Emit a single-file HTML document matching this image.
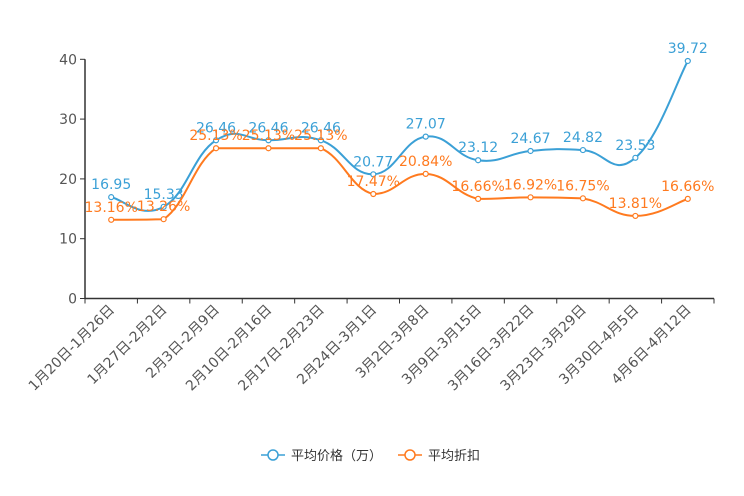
<!DOCTYPE html>
<html><head><meta charset="utf-8">
<style>
html,body{margin:0;padding:0;background:#fff;}
svg{display:block;font-family:"DejaVu Sans","Noto Sans CJK SC",sans-serif;}
</style></head>
<body>
<svg id="chart" width="744" height="496">
<g id="axes"></g>
<g id="series"></g>
<g id="legend">
  <g>
    <line x1="261" y1="455" x2="285" y2="455" stroke="#3ba0d6" stroke-width="1.5"/>
    <circle cx="273" cy="455" r="5" fill="#fff" stroke="#3ba0d6" stroke-width="1.5"/>
    <text x="291" y="460" font-size="13" fill="#333">平均价格（万）</text>
  </g>
  <g>
    <line x1="398" y1="455" x2="422" y2="455" stroke="#ff7a1f" stroke-width="1.5"/>
    <circle cx="410" cy="455" r="5" fill="#fff" stroke="#ff7a1f" stroke-width="1.5"/>
    <text x="428" y="460" font-size="13" fill="#333">平均折扣</text>
  </g>
</g>
</svg>
<script>
const categories = ["1月20日-1月26日","1月27日-2月2日","2月3日-2月9日","2月10日-2月16日","2月17日-2月23日","2月24日-3月1日","3月2日-3月8日","3月9日-3月15日","3月16日-3月22日","3月23日-3月29日","3月30日-4月5日","4月6日-4月12日"];
const priceValues = [16.95,15.33,26.46,26.46,26.46,20.77,27.07,23.12,24.67,24.82,23.53,39.72];
const discountValues = [13.16,13.26,25.13,25.13,25.13,17.47,20.84,16.66,16.92,16.75,13.81,16.66];
const yTicks = [0,10,20,30,40];

const NS="http://www.w3.org/2000/svg";
const X0=85, X1=714, Y0=298.5, Y1=59.3, YMAX=40;
const band=(X1-X0)/categories.length;
const xs=i=>X0+band*(i+0.5);
const ys=v=>Y0-(v/YMAX)*(Y0-Y1);
function mk(tag,attrs,parent){const e=document.createElementNS(NS,tag);for(const k in attrs)e.setAttribute(k,attrs[k]);parent.appendChild(e);return e;}
const axes=document.getElementById('axes'), series=document.getElementById('series');

let yl=mk('line',{x1:X0,y1:Y0,x2:X0,y2:Y1,stroke:'#333','stroke-width':1.5},axes);


let xl=mk('line',{x1:X0,y1:Y0,x2:X1,y2:Y0,stroke:'#333','stroke-width':1.5},axes);


yTicks.forEach(t=>{
  mk('line',{x1:X0-5,y1:ys(t),x2:X0,y2:ys(t),stroke:'#333'},axes);
  const tx=mk('text',{x:X0-8,y:ys(t)+5,'text-anchor':'end','font-size':14,fill:'#555'},axes);
  tx.textContent=t;
  
  
});
for(let i=0;i<=categories.length;i++){
  mk('line',{x1:X0+band*i,y1:Y0,x2:X0+band*i,y2:Y0+5,stroke:'#333'},axes);
}
categories.forEach((c,i)=>{
  const x=xs(i)+4,y=Y0+12;
  const tx=mk('text',{x:x,y:y,'text-anchor':'end','font-size':14,fill:'#555',transform:`rotate(-45 ${x} ${y})`},axes);
  tx.textContent=c;
  
  
});

function smoothPath(pts,clamp){
  let d=`M${pts[0][0]},${pts[0][1]}`;
  const s=0.22;
  for(let i=0;i<pts.length-1;i++){
    const p0=pts[Math.max(i-1,0)],p1=pts[i],p2=pts[i+1],p3=pts[Math.min(i+2,pts.length-1)];
    const c1=[p1[0]+(p2[0]-p0[0])*s,p1[1]+(p2[1]-p0[1])*s];
    const c2=[p2[0]-(p3[0]-p1[0])*s,p2[1]-(p3[1]-p1[1])*s];
    if(clamp){
      const lo=Math.min(p1[1],p2[1]),hi=Math.max(p1[1],p2[1]);
      c1[1]=Math.min(hi,Math.max(lo,c1[1]));
      c2[1]=Math.min(hi,Math.max(lo,c2[1]));
    }
    d+=` C${c1[0]},${c1[1]} ${c2[0]},${c2[1]} ${p2[0]},${p2[1]}`;
  }
  return d;
}
function drawSeries(vals,color,name,fmt,clamp){
  const g=mk('g',{},series);
  
  
  const pts=vals.map((v,i)=>[xs(i),ys(v)]);
  const p=mk('path',{d:smoothPath(pts,clamp),fill:'none',stroke:color,'stroke-width':2},g);
  
  
  pts.forEach((pt,i)=>{
    const c=mk('circle',{cx:pt[0],cy:pt[1],r:2.5,fill:'#fff',stroke:color,'stroke-width':1.2},g);
    
    
    const t=mk('text',{x:pt[0],y:pt[1]-8,'text-anchor':'middle','font-size':14,fill:color},g);
    t.textContent=fmt(vals[i]);
    
    
  });
}
drawSeries(priceValues,'#3ba0d6','price-series',v=>v.toFixed(2),false);
drawSeries(discountValues,'#ff7a1f','discount-series',v=>v.toFixed(2)+'%',true);
</script>
</body></html>
